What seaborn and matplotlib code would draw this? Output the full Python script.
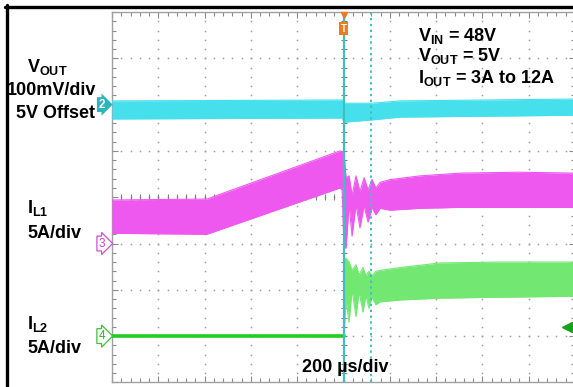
import matplotlib
matplotlib.use("Agg")
import numpy as np
import pandas as pd
import matplotlib.pyplot as plt
from matplotlib.lines import Line2D
import seaborn as sns

# ---------------- data ----------------
# time in microseconds, 0 = load step
vout_t = [-1000, -6, 2, 123, 244, 1000]
vout_hi_mV = [8, 10, 3, 3, 8, 12]          # deviation from 5 V (mV), upper envelope
vout_lo_mV = [-31, -29, -38, -33, -27, -23]  # lower envelope

il1_t = [-1000, -590, -15, -6, 2, 11, 24, 37, 54, 71, 89, 106, 123, 140, 158, 201, 330, 503, 762, 1000]
il1_hi = [4.7, 4.8, 10.0, 9.9, 9.8, 7.1, 7.3, 5.2, 7.3, 5.6, 7.1, 5.8, 6.9, 6.0, 6.6, 6.9, 7.3, 7.6, 7.7, 7.6]
il1_lo = [1.1, 1.0, 6.0, 5.8, -0.4, -0.5, 4.2, 0.8, 4.2, 1.7, 4.1, 2.3, 3.9, 3.1, 3.8, 3.6, 3.8, 3.9, 3.9, 3.9]

il2_pre_t = [-1000, 0]
il2_pre = [0.0, 0.0]
il2_t = [2, 11, 24, 37, 54, 67, 84, 97, 110, 123, 140, 158, 244, 417, 676, 1000]
il2_hi = [8.4, 8.4, 8.0, 7.1, 7.7, 6.6, 7.4, 6.5, 7.0, 6.5, 7.0, 7.1, 7.4, 7.9, 8.0, 8.0]
il2_lo = [0.0, 3.9, 1.5, 5.0, 2.1, 4.8, 2.6, 4.4, 3.0, 4.2, 3.4, 3.7, 3.9, 4.1, 4.2, 4.3]

cursor_t = [0, 120]

# channel settings: (position in divisions, units per division)
CH2_POS, CH2_SCALE = 2.0, 100.0   # VOUT, 100 mV/div
CH3_POS, CH3_SCALE = -1.0, 5.0    # IL1, 5 A/div
CH4_POS, CH4_SCALE = -3.0, 5.0    # IL2, 5 A/div

C_CYAN = "#45E0EC"
C_MAG = "#EE58EE"
C_GRN = "#72E872"
C_GRN_D = "#22CC22"
C_CUR = "#3FBFC4"
C_ORG = "#F07A1E"
C_GRID = "#9C9C9C"

sns.set_style("white")
plt.rcParams['font.family'] = ['Liberation Sans', 'DejaVu Sans']
plt.rcParams['mathtext.fontset'] = 'custom'
plt.rcParams['mathtext.rm'] = 'Liberation Sans:bold'
plt.rcParams['mathtext.it'] = 'Liberation Sans:bold'
plt.rcParams['mathtext.bf'] = 'Liberation Sans:bold'

W, H = 573, 387
fig = plt.figure(figsize=(W / 100, H / 100), dpi=100)
ax = fig.add_axes([112 / W, (H - 382.4) / H, 463 / W, 370.4 / H])
ax.set_xlim(-1000, 1000)
ax.set_ylim(-4, 4)

# ---------------- graticule ----------------
for gx in range(-800, 801, 200):
    ys = np.arange(-4, 4.001, 0.2)
    ax.plot([gx] * len(ys), ys, ls="none", marker="s", ms=1.1, color=C_GRID, mec="none", zorder=1)
for gy in range(-3, 4):
    xs = np.arange(-1000, 1000.1, 40)
    ax.plot(xs, [gy] * len(xs), ls="none", marker="s", ms=1.1, color=C_GRID, mec="none", zorder=1)
# center cross ticks
xs = np.arange(-1000, 1000.1, 40)
ax.plot(xs, [0] * len(xs), ls="none", marker="|", ms=5, mew=0.8, color="#808080", zorder=1)
ys = np.arange(-4, 4.001, 0.2)
ax.plot([0] * len(ys), ys, ls="none", marker="_", ms=5, mew=0.8, color="#808080", zorder=1)

# ---------------- traces ----------------
def band(t, hi, lo, pos, scale, color):
    df = pd.DataFrame({"t": t,
                       "hi": np.array(hi) / scale + pos,
                       "lo": np.array(lo) / scale + pos})
    ax.fill_between(df["t"], df["lo"], df["hi"], color=color, lw=0, zorder=3)
    sns.lineplot(data=df, x="t", y="hi", ax=ax, color=color, lw=0.8, zorder=3)
    sns.lineplot(data=df, x="t", y="lo", ax=ax, color=color, lw=0.8, zorder=3)

band(vout_t, vout_hi_mV, vout_lo_mV, CH2_POS, CH2_SCALE, C_CYAN)
band(il1_t, il1_hi, il1_lo, CH3_POS, CH3_SCALE, C_MAG)
band(il2_t, il2_hi, il2_lo, CH4_POS, CH4_SCALE, C_GRN)
pre = pd.DataFrame({"t": il2_pre_t, "v": np.array(il2_pre) / CH4_SCALE + CH4_POS})
sns.lineplot(data=pre, x="t", y="v", ax=ax, color=C_GRN_D, lw=2.6, zorder=3)

# cursors
ax.axvline(cursor_t[0], color=C_CUR, lw=1.6, zorder=4)
ax.axvline(cursor_t[1], color=C_CUR, lw=1.4, ls=(0, (1.2, 1.8)), zorder=4)

# trigger marker
ax.plot(0, 3.93, marker="v", color=C_ORG, ms=5, clip_on=False, zorder=6)
ax.text(0, 3.64, "T", ha="center", va="center", color="white", fontsize=7, fontweight="bold",
        bbox=dict(boxstyle="square,pad=0.18", fc=C_ORG, ec="none"), zorder=6)

# channel markers at left
ax.annotate("2", xy=(-1000, CH2_POS), xytext=(-7.5, 0), textcoords="offset points",
            ha="center", va="center", fontsize=8.5, fontweight="bold", color="white",
            bbox=dict(boxstyle="rarrow,pad=0.12", fc="#2FB4BC", ec="none"), annotation_clip=False)
ax.annotate("3", xy=(-1000, CH3_POS), xytext=(-7.5, 0), textcoords="offset points",
            ha="center", va="center", fontsize=8.5, color="#D040D0",
            bbox=dict(boxstyle="rarrow,pad=0.12", fc="white", ec="#D050D0", lw=0.9), annotation_clip=False)
ax.annotate("4", xy=(-1000, CH4_POS), xytext=(-7.5, 0), textcoords="offset points",
            ha="center", va="center", fontsize=8.5, color="#30B030",
            bbox=dict(boxstyle="rarrow,pad=0.12", fc="white", ec="#40C040", lw=0.9), annotation_clip=False)

# green arrow right
ax.plot(965, -2.80, marker="<", color="#18A018", ms=7, clip_on=False, zorder=6)

# axes frame/ticks
ax.set_xticks(range(-1000, 1001, 200))
ax.set_xticks(range(-1000, 1001, 40), minor=True)
ax.set_yticks(range(-4, 5))
ax.set_yticks(np.arange(-4, 4.01, 0.2), minor=True)
ax.tick_params(which="both", direction="in", top=True, right=True, bottom=True, left=True,
               labelbottom=False, labelleft=False, color="#8A8A8A", width=0.8)
ax.tick_params(which="major", length=4)
ax.tick_params(which="minor", length=3)
ax.set_xlabel("")
ax.set_ylabel("")
for s in ax.spines.values():
    s.set_color("#A0A0A0")
    s.set_linewidth(1.0)

# outer frame (left + top)
fig.add_artist(Line2D([6.7 / W, 6.7 / W], [0, 1 - 5.2 / H], color="black", lw=2.4))
fig.add_artist(Line2D([5.2 / W, 1], [1 - 6.7 / H, 1 - 6.7 / H], color="black", lw=2.4))

# ---------------- labels ----------------
def ftext(x, y, s, ha="left", size=13):
    fig.text(x / W, 1 - y / H, s, ha=ha, va="baseline", fontsize=size,
             fontweight="bold", color="black")

ftext(47, 72, r"$\mathrm{V_{OUT}}$", ha="center")
ftext(52, 95, "100mV/div", ha="center")
ftext(55, 118, "5V Offset", ha="center")
ftext(27, 213, r"$\mathrm{I_{L1}}$")
ftext(27, 238, "5A/div")
ftext(27, 329, r"$\mathrm{I_{L2}}$")
ftext(27, 353, "5A/div")
ftext(418, 41, r"$\mathrm{V_{IN}}$ = 48V")
ftext(418, 61, r"$\mathrm{V_{OUT}}$ = 5V")
ftext(418, 83, r"$\mathrm{I_{OUT}}$ = 3A to 12A")
ftext(302, 372, "200 µs/div")

fig.savefig("out.png", dpi=100)
